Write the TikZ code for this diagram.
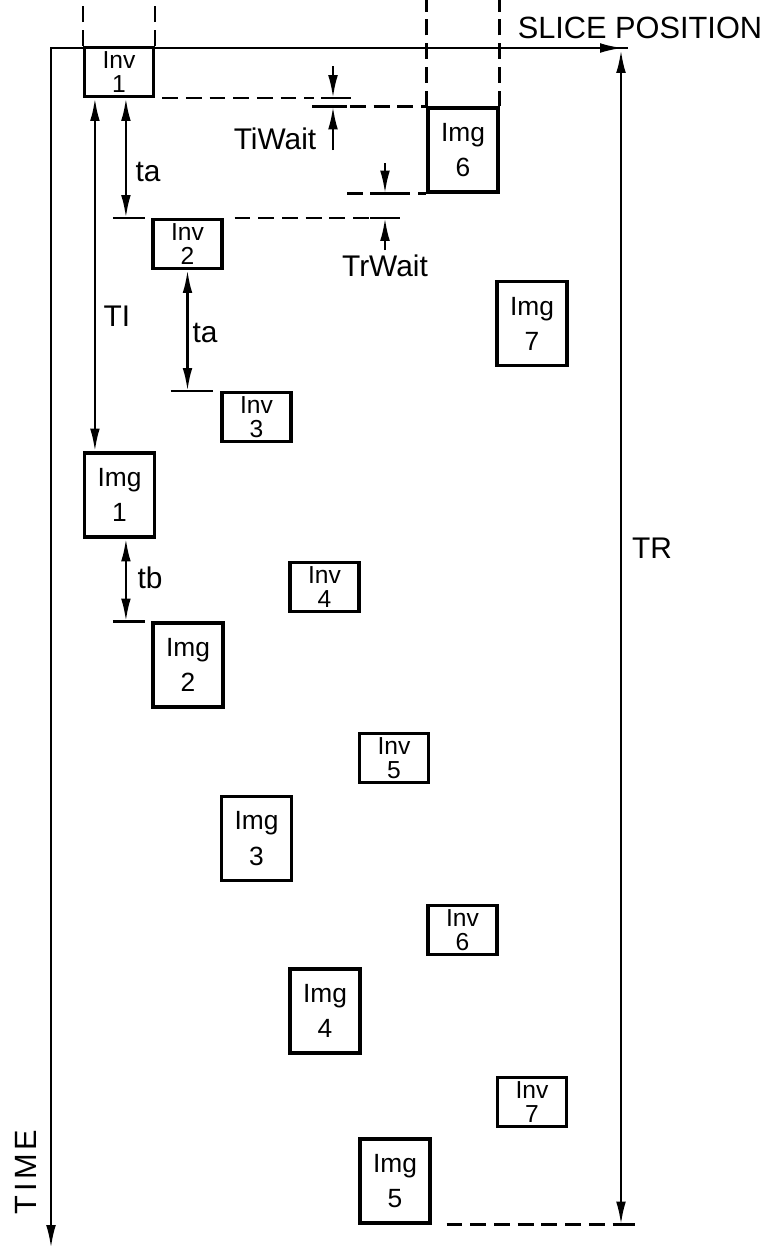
\documentclass[tikz,border=0pt]{standalone}
\usepackage{fontspec}
\setmainfont{Liberation Sans}
\usetikzlibrary{arrows.meta,calc}

\begin{document}
\begin{tikzpicture}[x=0.02cm, y=-0.02cm, line width=1.4pt,
  invbox/.style={draw, line width=1.8pt, minimum width=1.38cm, minimum height=0.98cm, inner sep=0pt, align=center, font=\fontsize{14}{14}\selectfont},
  imgbox/.style={draw, line width=1.8pt, minimum width=1.4cm, minimum height=1.68cm, inner sep=0pt, align=center, font=\fontsize{15}{20}\selectfont},
  lbl/.style={inner sep=0pt, font=\fontsize{17}{18}\selectfont},
  guide/.style={dash pattern=on 9pt off 4.5pt},
  tip/.style={-{Latex[length=13pt,width=5.5pt]}},
  dim/.style={{Latex[length=13pt,width=5.5pt]}-{Latex[length=13pt,width=5.5pt]}}]
  \useasboundingbox (0,0) rectangle (780,1249);
  \coordinate (top) at (0,0);
  % ejes
  \coordinate (origin) at (51,48);
  \coordinate (slice end) at (623,48);
  \coordinate (time end) at (51,1248);
  \draw[dim] (time end) -- (origin) -- (slice end);
  \node[inner sep=0pt, font=\fontsize{17.5}{20}\selectfont] (sliceLabel) at (640,28) {SLICE POSITION};
  \node[inner sep=0pt, rotate=90, font=\fontsize{17.5}{20}\selectfont\addfontfeature{LetterSpace=12}] (timeLabel) at (26,1172) {TIME};
  % inversiones
  \node[invbox] (inv1) at (119,72) {Inv\\1};
  \node[invbox] (inv2) at (187.5,244) {Inv\\2};
  \node[invbox] (inv3) at (256.5,417) {Inv\\3};
  \node[invbox] (inv4) at (324.5,587) {Inv\\4};
  \node[invbox] (inv5) at (394,758) {Inv\\5};
  \node[invbox] (inv6) at (462.5,930) {Inv\\6};
  \node[invbox] (inv7) at (532,1102) {Inv\\7};
  % imagenes
  \node[imgbox] (img1) at (119.5,495) {Img\\1};
  \node[imgbox] (img2) at (188,665) {Img\\2};
  \node[imgbox] (img3) at (256.5,838.5) {Img\\3};
  \node[imgbox] (img4) at (325,1011) {Img\\4};
  \node[imgbox] (img5) at (395,1181) {Img\\5};
  \node[imgbox] (img6) at (463,150) {Img\\6};
  \node[imgbox] (img7) at (532,323.5) {Img\\7};
  % columnas de corte
  \draw[guide] (inv1.north west) -- (inv1.north west |- top);
  \draw[guide] (inv1.north east) -- (inv1.north east |- top);
  \draw[guide] (img6.north west) -- (img6.north west |- top);
  \draw[guide] (img6.north east) -- (img6.north east |- top);
  % TI
  \coordinate (ti top) at ($(inv1.south west)+(12,0)$);
  \coordinate (ti bot) at (ti top |- img1.north);
  \draw[dim] (ti top) -- (ti bot);
  \node[lbl] (tiLabel) at (117,316) {TI};
  % ta (1)
  \coordinate (ta1 top) at ($(inv1.south west)+(43,0)$);
  \coordinate (ta1 bot) at (ta1 top |- inv2.north);
  \draw[dim] (ta1 top) -- (ta1 bot);
  \draw ($(ta1 bot)+(-13,0)$) -- ++(32,0);
  \node[lbl] (taLabelA) at (148,172) {ta};
  % ta (2)
  \coordinate (ta2 top) at (inv2.south);
  \coordinate (ta2 bot) at (inv2.south |- inv3.north);
  \draw[dim] (ta2 top) -- (ta2 bot);
  \draw ($(ta2 bot)+(-17,0)$) -- ++(42,0);
  \node[lbl] (taLabelB) at (205,333) {ta};
  % tb
  \coordinate (tb top) at ($(img1.south west)+(43,0)$);
  \coordinate (tb bot) at (tb top |- img2.north);
  \draw[dim] (tb top) -- (tb bot);
  \draw ($(tb bot)+(-13,0)$) -- ++(32,0);
  \node[lbl] (tbLabel) at (150,578) {tb};
  % TiWait
  \coordinate (tiw top) at (333,0 |- inv1.south);
  \coordinate (tiw bot) at (333,0 |- img6.north);
  \draw[guide] (inv1.south east) ++(7,0) -- ++(152,0);
  \draw ($(tiw top)+(-12,0)$) -- ++(30,0);
  \draw[tip] (333,66) -- (tiw top);
  \draw ($(tiw bot)+(-21,0)$) -- ++(35,0);
  \draw[tip] (333,150) -- (tiw bot);
  \draw[guide] ($(tiw bot)+(17,0)$) -- (img6.north west);
  \node[lbl] (tiwLabel) at (275,139) {TiWait};
  % TrWait
  \coordinate (trw top) at (385,0 |- img6.south);
  \coordinate (trw bot) at (385,0 |- inv2.north);
  \draw[guide] (347,0 |- img6.south) -- (img6.south west);
  \draw ($(trw top)+(-15,0)$) -- ++(30,0);
  \draw[tip] (385,163) -- (trw top);
  \draw[guide] ($(inv2.north east)+(11,0)$) -- ($(trw bot)+(-15,0)$);
  \draw ($(trw bot)+(-15,0)$) -- ++(30,0);
  \draw[tip] (385,250) -- (trw bot);
  \node[lbl] (trwLabel) at (385,266) {TrWait};
  % TR
  \coordinate (tr top) at (621,50);
  \coordinate (tr bot) at (tr top |- img5.south);
  \draw[dim] (tr top) -- (tr bot);
  \draw ($(tr top)+(-7,-2)$) -- ++(14,0);
  \draw ($(tr bot)+(-6,0)$) -- ++(20,0);
  \draw[guide] ($(img5.south east)+(15,0)$) -- ($(tr bot)+(-6,0)$);
  \node[lbl] (trLabel) at (652,548) {TR};
\end{tikzpicture}
\end{document}
